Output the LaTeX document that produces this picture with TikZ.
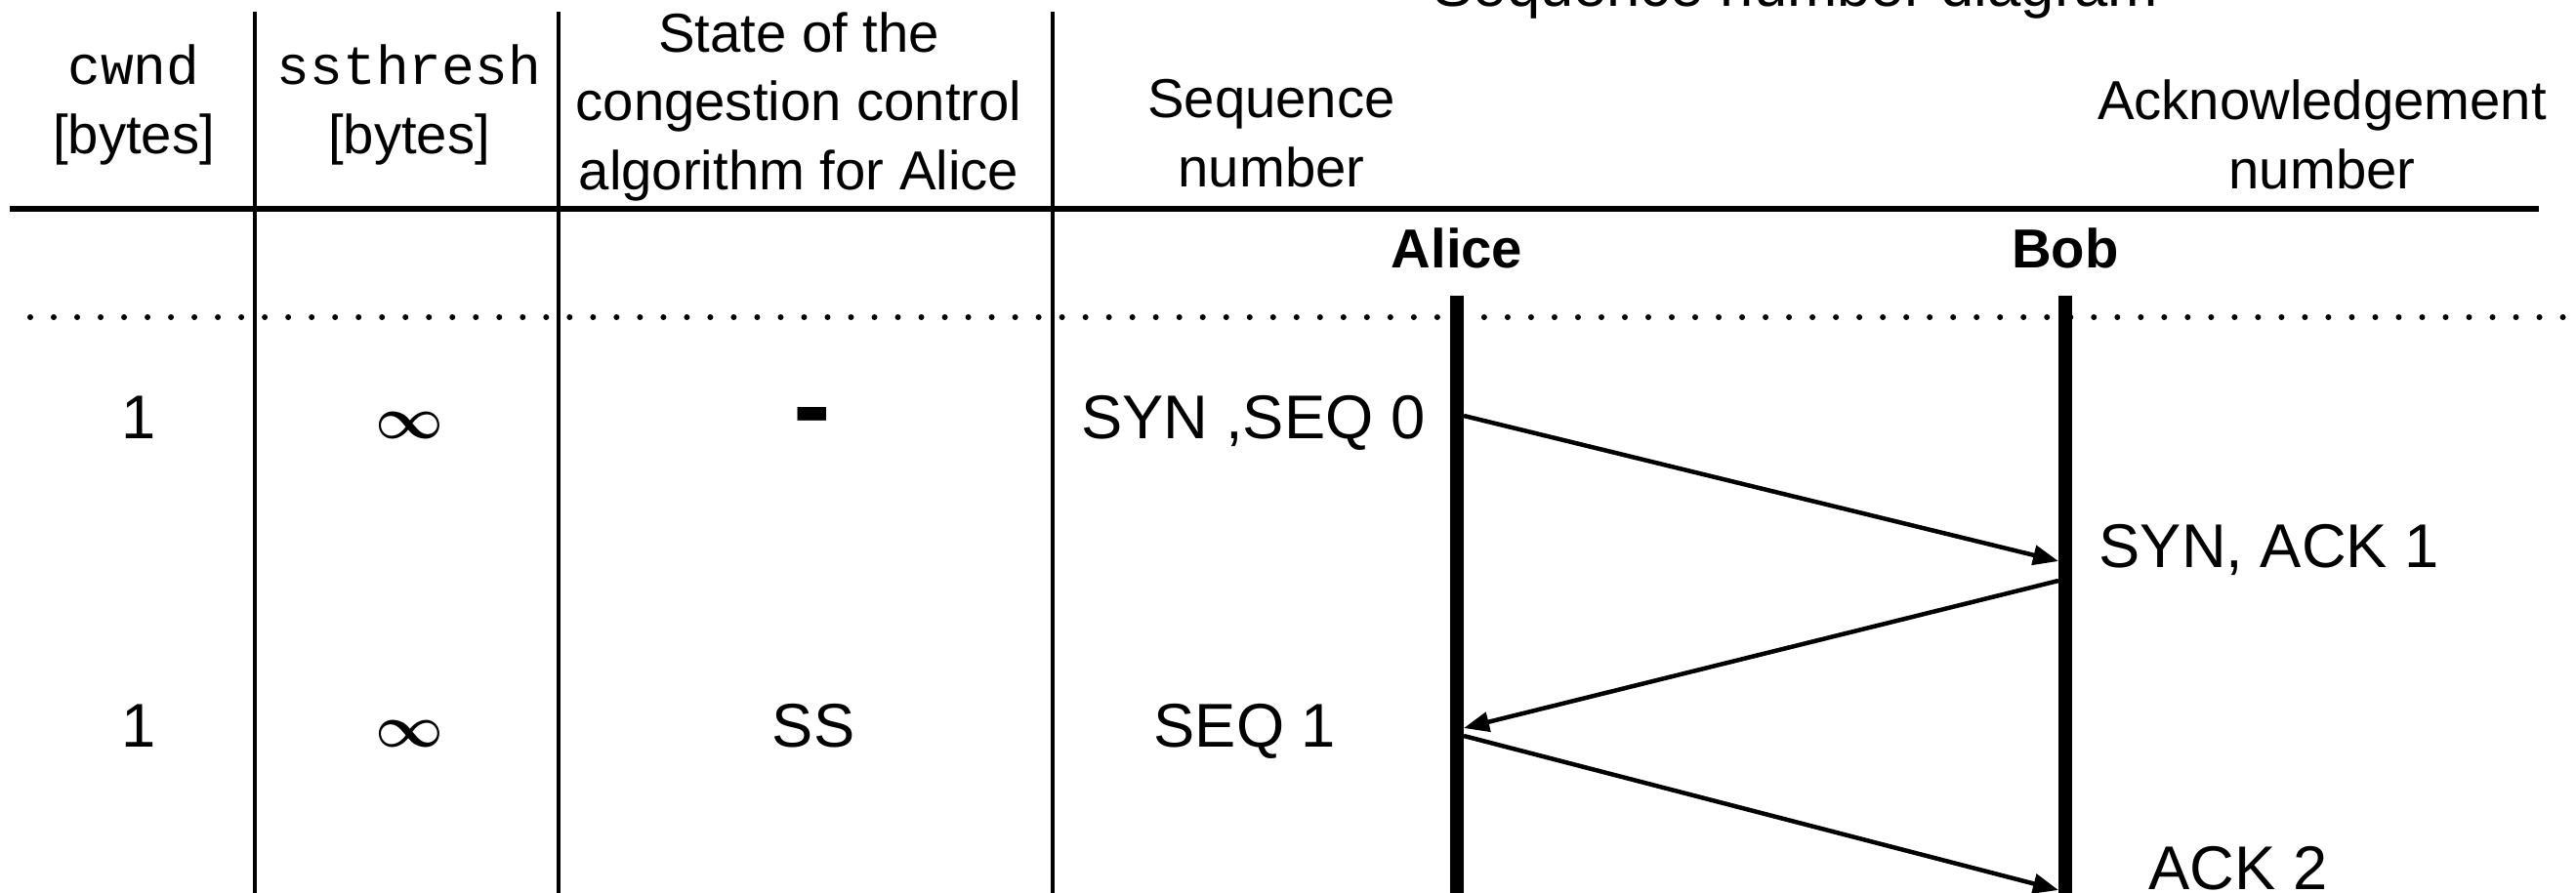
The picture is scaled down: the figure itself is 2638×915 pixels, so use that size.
\documentclass[tikz,border=0pt]{standalone}
\usepackage{fontspec}
\setmainfont{Liberation Sans}
\setmonofont{Liberation Mono}
\usetikzlibrary{arrows.meta}

\tikzset{
  hdr/.style={font=\fontsize{16}{20}\selectfont, align=center, anchor=base, inner sep=0pt},
  entry/.style={font=\fontsize{18}{22}\selectfont, anchor=base, inner sep=0pt},
  inf/.style={font=\fontsize{16}{20}\selectfont\boldmath, anchor=base, inner sep=0pt},
  msg/.style={line width=0.045cm, -{Triangle[length=2.6mm,width=2mm]}},
  lifeline/.style={line width=0.14cm},
  colline/.style={line width=0.035cm}
}

\begin{document}
\begin{tikzpicture}[x=0.01cm,y=-0.01cm]
    \useasboundingbox (0,0) rectangle (2638,915);
    % title, cut off by the top edge
    \node[hdr,font=\fontsize{17.5}{21}\selectfont] (title) at (1839,7) {Sequence number diagram};
    % column headers
    \node[hdr] (cwndhdr) at (137,157) {\texttt{cwnd}\\{}[bytes]};
    \node[hdr] (ssthhdr) at (419,157) {\texttt{ssthresh}\\{}[bytes]};
    \node[hdr] (statehdr) at (818,194) {State of the\\congestion control\\algorithm for Alice};
    \node[hdr] (seqhdr) at (1302,191) {Sequence\\number};
    \node[hdr] (ackhdr) at (2378,193) {Acknowledgement\\number};
    \node[hdr,font=\fontsize{16}{20}\selectfont\bfseries] (alice) at (1492,274) {Alice};
    \node[hdr,font=\fontsize{16}{20}\selectfont\bfseries] (bob) at (2115,274) {Bob};
    % rules of the table
    \coordinate (hl) at (10,214);
    \coordinate (hr) at (2600,214);
    \draw[line width=0.065cm] (hl) -- (hr);
    \coordinate (dl) at (31,325);
    \coordinate (dr) at (2632,325);
    \draw[line width=0.06cm,line cap=round,dash pattern=on 0pt off 0.24cm] (dl) -- (dr);
    \foreach \c/\x in {ca/261,cb/572,cc/1078} {
      \coordinate (\c t) at (\x,12);
      \coordinate (\c b) at (\x,915);
      \draw[colline] (\c t) -- (\c b);
    }
    % life lines
    \coordinate (alicetop) at (1492,303);
    \coordinate (alicebot) at (1492,915);
    \coordinate (bobtop) at (2115,303);
    \coordinate (bobbot) at (2115,915);
    \draw[lifeline] (alicetop) -- (alicebot);
    \draw[lifeline] (bobtop) -- (bobbot);
    % row 1
    \node[entry] (cwnda) at (142,449) {1};
    \node[inf] (ssta) at (419,449) {$\infty$};
    \node[entry,font=\fontsize{33}{36}\selectfont\bfseries] (statea) at (832,454) {-};
    \node[entry,anchor=base east] (seqa) at (1460,449) {SYN ,SEQ 0};
    \node[entry,anchor=base west] (acka) at (2149,581) {SYN, ACK 1};
    % row 2
    \node[entry] (cwndb) at (142,765) {1};
    \node[inf] (sstb) at (419,765) {$\infty$};
    \node[entry] (stateb) at (833,765) {SS};
    \node[entry] (seqb) at (1275,765) {SEQ 1};
    \node[entry,anchor=base west] (ackb) at (2200,911) {ACK 2};
    % messages
    \coordinate (mas) at (1499,426);
    \coordinate (mae) at (2108,575);
    \coordinate (mbs) at (2108,595);
    \coordinate (mbe) at (1499,746);
    \coordinate (mcs) at (1499,754);
    \coordinate (mce) at (2108,912);
    \draw[msg] (mas) -- (mae);
    \draw[msg] (mbs) -- (mbe);
    \draw[msg] (mcs) -- (mce);
\end{tikzpicture}
\end{document}
